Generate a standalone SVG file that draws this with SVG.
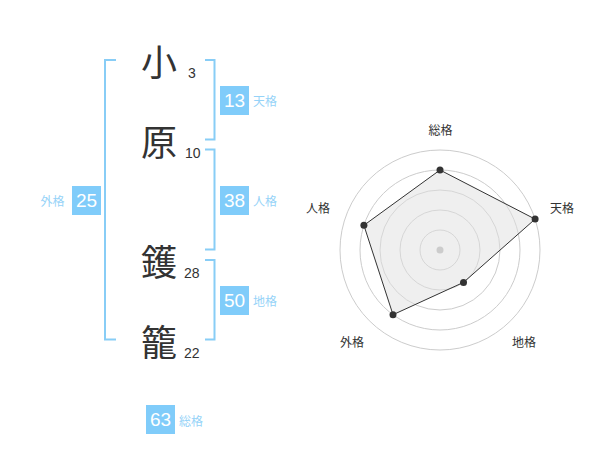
<svg xmlns="http://www.w3.org/2000/svg" width="600" height="470" viewBox="0 0 600 470">
<style>
.ch{font-family:"Noto Sans CJK JP","Noto Sans CJK SC",sans-serif;font-size:36px;fill:#333;text-anchor:middle}
.num{font-family:"Liberation Sans",Arial,sans-serif;font-size:14px;fill:#333}
.br{fill:none;stroke:#88cdf6;stroke-width:2}
.box{fill:#80ccfa}
.bn{font-family:"Liberation Sans",Arial,sans-serif;font-size:19px;fill:#fff;text-anchor:middle}
.lb{font-family:"Noto Sans CJK JP","Noto Sans CJK SC",sans-serif;font-size:12px;fill:#96d3f8}
.ring{fill:none;stroke:#ccc;stroke-width:1}
.rl{font-family:"Noto Sans CJK JP","Noto Sans CJK SC",sans-serif;font-size:12px;fill:#333;text-anchor:middle}
</style>
<rect width="600" height="470" fill="#fff"/>
<g id="connectors">
<path class="br" d="M116,60 H105 V339.5 H116"/>
<path class="br" d="M205,60 H214.5 V139.5 H205"/>
<path class="br" d="M205,149.5 H214.5 V249.5 H205"/>
<path class="br" d="M205,260 H214.5 V339.5 H205"/>
</g>
<g id="char1"><text class="ch" x="159" y="76">小</text><text class="num" x="188" y="78">3</text></g>
<g id="char2"><text class="ch" x="159" y="156">原</text><text class="num" x="185" y="158">10</text></g>
<g id="char3"><text class="ch" x="159" y="276">鑊</text><text class="num" x="184" y="278">28</text></g>
<g id="char4"><text class="ch" x="159" y="356">籠</text><text class="num" x="184" y="358">22</text></g>
<g id="tenkaku"><rect class="box" x="220" y="86" width="29" height="29"/><text class="bn" x="234.5" y="107">13</text><text class="lb" x="253" y="106">天格</text></g>
<g id="jinkaku"><rect class="box" x="220" y="186" width="29" height="29"/><text class="bn" x="234.5" y="207">38</text><text class="lb" x="253" y="206">人格</text></g>
<g id="chikaku"><rect class="box" x="220" y="286" width="29" height="29"/><text class="bn" x="234.5" y="307">50</text><text class="lb" x="253" y="306">地格</text></g>
<g id="gaikaku"><rect class="box" x="72" y="186" width="29" height="29"/><text class="bn" x="86.5" y="207">25</text><text class="lb" x="40.5" y="206">外格</text></g>
<g id="soukaku"><rect class="box" x="146" y="405" width="29" height="29"/><text class="bn" x="160.5" y="426">63</text><text class="lb" x="179" y="426">総格</text></g>
<g id="radar">
<circle class="ring" cx="440" cy="250" r="20"/>
<circle class="ring" cx="440" cy="250" r="40"/>
<circle class="ring" cx="440" cy="250" r="60"/>
<circle class="ring" cx="440" cy="250" r="80"/>
<circle class="ring" cx="440" cy="250" r="100"/>
<polygon points="440,170 535.1,219.1 463.5,282.4 393,314.7 363.9,225.3" fill="#e0e0e0" fill-opacity="0.5" stroke="#333" stroke-width="1"/>
<circle cx="440" cy="250" r="3.5" fill="#ccc"/>
<g fill="#333">
<circle cx="440" cy="170" r="3.5"/>
<circle cx="535.1" cy="219.1" r="3.5"/>
<circle cx="463.5" cy="282.4" r="3.5"/>
<circle cx="393" cy="314.7" r="3.5"/>
<circle cx="363.9" cy="225.3" r="3.5"/>
</g>
<text class="rl" x="440.5" y="135">総格</text>
<text class="rl" x="562" y="213">天格</text>
<text class="rl" x="318" y="213">人格</text>
<text class="rl" x="352" y="347">外格</text>
<text class="rl" x="524" y="347">地格</text>
</g>
</svg>
